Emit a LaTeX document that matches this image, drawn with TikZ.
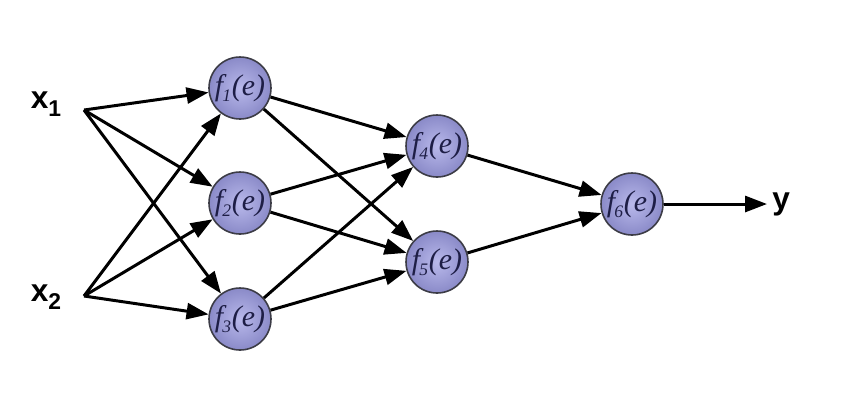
\documentclass[tikz,border=0pt]{standalone}
\usepackage{fontspec}
\setsansfont{Liberation Sans}
\newfontfamily\nfont{Liberation Serif}
\usetikzlibrary{arrows.meta}
\definecolor{nodein}{RGB}{185,185,235}
\definecolor{nodeout}{RGB}{138,138,200}
\definecolor{nodeline}{RGB}{60,60,70}
\definecolor{nodetext}{RGB}{30,30,70}
\newcommand{\fe}[1]{{\nfont\itshape f\kern-0.5pt\raisebox{-0.45ex}{\fontsize{10}{10}\selectfont #1}\kern0.5pt(e)}}
\newcommand{\xl}[1]{x\raisebox{-0.45ex}{\fontsize{13}{13}\selectfont #1}}
\tikzset{
  neuron/.style={circle, minimum size=62*0.02cm, inner sep=0pt, draw=nodeline, line width=0.9pt,
    inner color=nodein, outer color=nodeout, text=nodetext,
    font=\fontsize{17}{19}\selectfont},
  conn/.style={line width=1.7pt, -{Triangle[length=0.44cm,width=0.32cm]}},
  inlabel/.style={font=\sffamily\bfseries\fontsize{18}{20}\selectfont, inner sep=0pt}
}
\begin{document}
\begin{tikzpicture}[x=0.02cm,y=-0.02cm]
\useasboundingbox (0,0) rectangle (855,407);
\node[inlabel] (x1) at (46,104) {\xl{1}};
\node[inlabel] (x2) at (46,297) {\xl{2}};
\coordinate (s1) at (84,110);
\coordinate (s2) at (84,296);
\node[neuron] (f1) at (240,88) {\fe{1}};
\node[neuron] (f2) at (240,203) {\fe{2}};
\node[neuron] (f3) at (240,319) {\fe{3}};
\node[neuron] (f4) at (437,146) {\fe{4}};
\node[neuron] (f5) at (437,262) {\fe{5}};
\node[neuron] (f6) at (632,204) {\fe{6}};
\coordinate (ye) at (767,204);
\node[inlabel, anchor=west] (y) at (772,204) {y};
\foreach \s in {s1,s2}{
  \foreach \t in {f1,f2,f3}{
    \draw[conn] (\s) -- (\t);
  }
}
\foreach \s in {f1,f2,f3}{
  \foreach \t in {f4,f5}{
    \draw[conn] (\s) -- (\t);
  }
}
\draw[conn] (f4) -- (f6);
\draw[conn] (f5) -- (f6);
\draw[conn] (f6) -- (ye);
\end{tikzpicture}
\end{document}
